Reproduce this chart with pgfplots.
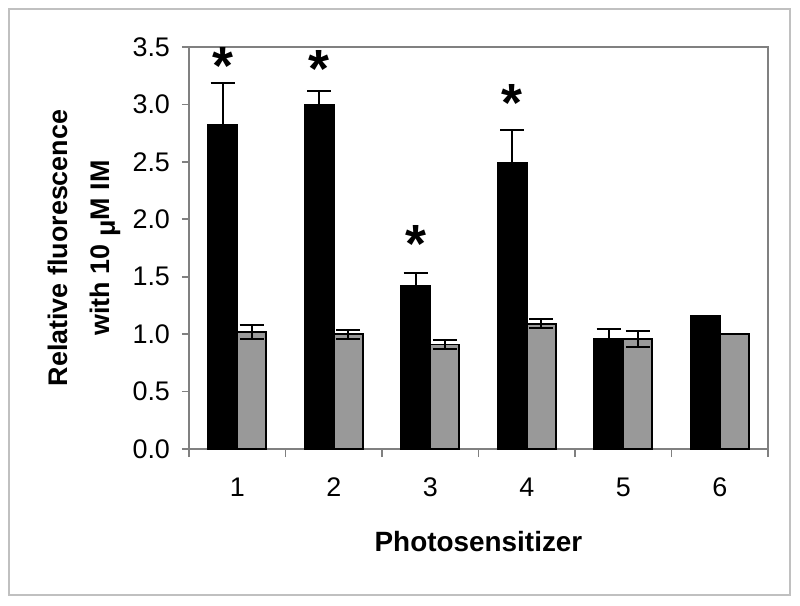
\documentclass[border=0pt]{standalone}
\usepackage{pgfplots}
\pgfplotsset{compat=1.18}
\usepackage{fontspec}
\setmainfont{Liberation Sans}
\definecolor{barGray}{HTML}{999999}
\definecolor{axGray}{HTML}{808080}
\definecolor{frameGray}{HTML}{C0C0C0}
\begin{document}
\begin{tikzpicture}
\path[use as bounding box] (-94.5bp,-78.5bp) rectangle (305.5bp,224.5bp);
\draw[frameGray, line width=0.8bp] (-90bp,-73bp) rectangle (300.5bp,220bp);
\begin{axis}[
  at={(0,0)}, anchor=south west,
  scale only axis,
  width=289.5bp, height=201bp,
  ybar=0pt, bar width=14.5bp,
  xmin=-0.5, xmax=5.5,
  ymin=0, ymax=3.5,
  ytick={0,0.5,1,1.5,2,2.5,3,3.5},
  yticklabel style={/pgf/number format/fixed, /pgf/number format/fixed zerofill, /pgf/number format/precision=1, xshift=-2.5bp},
  /pgf/number format/assume math mode=true,
  xtick={0,1,2,3,4,5},
  xticklabels={1,2,3,4,5,6},
  minor xtick={-0.5,0.5,1.5,2.5,3.5,4.5,5.5},
  major x tick style={draw=none},
  minor x tick style={draw=axGray, line width=0.6bp},
  minor tick length=4bp,
  major tick length=3.5bp,
  ytick style={draw=axGray, line width=0.8bp},
  tick align=outside,
  xtick pos=bottom, ytick pos=left,
  axis line style={draw=axGray, line width=1bp},
  ticklabel style={font=\fontsize{13.5}{15}\selectfont},
  xticklabel style={anchor=base, yshift=-20bp},
  xlabel={Photosensitizer},
  xlabel style={font=\fontsize{14}{16}\selectfont\bfseries, at={(axis description cs:0.5,0)}, anchor=center, yshift=-46.5bp},
  ylabel={Relative fluorescence\\with 10 \raisebox{-0.4ex}{μ}M IM},
  ylabel style={font=\fontsize{13.5}{21}\selectfont\bfseries, align=center, at={(axis description cs:0,0.5)}, anchor=center, yshift=52.5bp},
  error bars/error bar style={line width=1bp, black},
  error bars/error mark options={rotate=90, mark size=6bp, line width=1bp, black},
  clip=false,
]
\addplot[fill=black, draw=black, line width=0.8bp,
  error bars/.cd, y dir=both, y explicit]
  coordinates {
  (0,2.82) +- (0,0.37)
  (1,3.00) +- (0,0.12)
  (2,1.42) +- (0,0.11)
  (3,2.49) +- (0,0.29)
  (4,0.957) +- (0,0.09)
  (5,1.157) +- (0,0)
  };
\addplot[fill=barGray, draw=black, line width=0.8bp,
  error bars/.cd, y dir=both, y explicit]
  coordinates {
  (0,1.02) +- (0,0.06)
  (1,1.00) +- (0,0.04)
  (2,0.91) +- (0,0.043)
  (3,1.09) +- (0,0.04)
  (4,0.957) +- (0,0.067)
  (5,1.00) +- (0,0)
  };
\addplot[only marks, mark=none, nodes near coords={*}, nodes near coords style={font=\fontsize{27}{27}\selectfont\bfseries, anchor=center, yshift=-2.5bp}, point meta=explicit symbolic, xshift=-7.25bp]
  coordinates {
  (0,3.38) [*]
  (1,3.35) [*]
  (2,1.83) [*]
  (3,3.06) [*]
  };
\end{axis}
\end{tikzpicture}
\end{document}
